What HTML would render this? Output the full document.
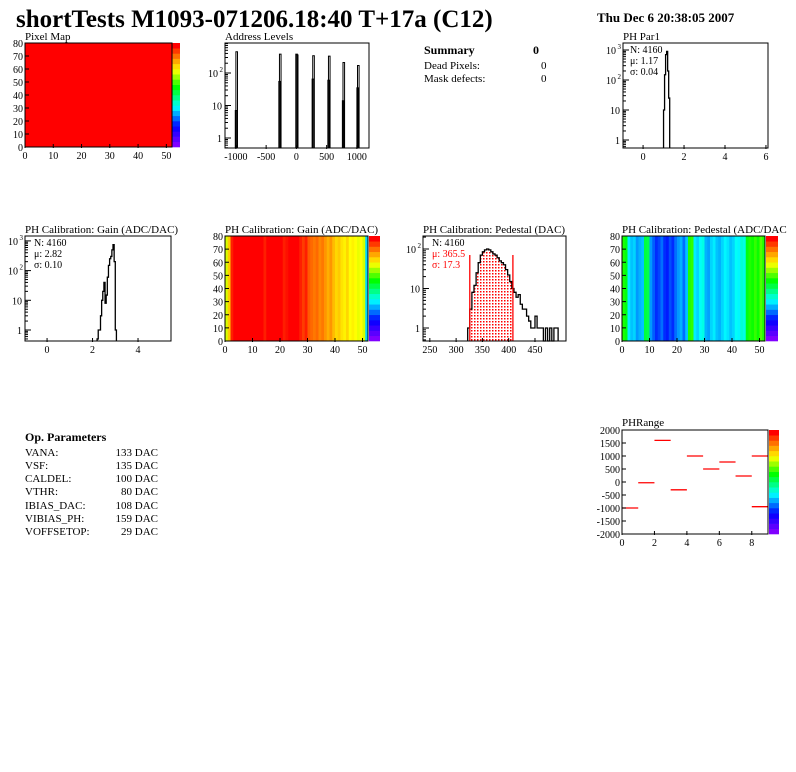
<!DOCTYPE html>
<html><head><meta charset="utf-8"><style>
body{margin:0;background:#fff;}
svg{display:block;font-family:"Liberation Serif",serif;}
</style></head><body>
<svg id="c" width="796" height="772" viewBox="0 0 796 772" xmlns="http://www.w3.org/2000/svg">
<text x="16" y="27" font-size="25" font-weight="bold">shortTests M1093-071206.18:40 T+17a (C12)</text>
<text x="597" y="22" font-size="13" font-weight="bold">Thu Dec  6 20:38:05 2007</text>
<g font-size="11">
<text x="424" y="54" font-weight="bold" font-size="12">Summary</text><text x="533" y="54" font-weight="bold" font-size="12">0</text>
<text x="424" y="69">Dead Pixels:</text><text x="541" y="69">0</text>
<text x="424" y="82">Mask defects:</text><text x="541" y="82">0</text>
</g>
<g font-size="11">
<text x="25" y="441" font-weight="bold" font-size="12">Op. Parameters</text>
<text x="25" y="456">VANA:</text><text x="158" y="456" text-anchor="end">133 DAC</text>
<text x="25" y="469">VSF:</text><text x="158" y="469" text-anchor="end">135 DAC</text>
<text x="25" y="482">CALDEL:</text><text x="158" y="482" text-anchor="end">100 DAC</text>
<text x="25" y="495">VTHR:</text><text x="158" y="495" text-anchor="end">80 DAC</text>
<text x="25" y="509">IBIAS_DAC:</text><text x="158" y="509" text-anchor="end">108 DAC</text>
<text x="25" y="522">VIBIAS_PH:</text><text x="158" y="522" text-anchor="end">159 DAC</text>
<text x="25" y="535">VOFFSETOP:</text><text x="158" y="535" text-anchor="end">29 DAC</text>
</g>
</svg>
<script>
// ---------- data ----------
const addrBins = [-1010,-1000,-290,-280,-10,0,260,270,520,530,760,770,1000,1010];
const addrCounts = [7,450,55,380,380,360,65,340,60,330,14,210,35,170];
const par1Edges = [1.0,1.05,1.1,1.15,1.2,1.25,1.3];
const par1Counts = [10,150,700,900,200,25];
const gainEdges = [2.2,2.25,2.3,2.35,2.4,2.45,2.5,2.55,2.6,2.65,2.7,2.75,2.8,2.85,2.9,2.95,3.0,3.05];
const gainCounts = [0.5,1,1,3,10,20,40,8,15,60,150,250,300,500,750,200,1];
const pedStart = 322, pedWidth = 4;
const pedCounts = [1,3,8,12,25,45,70,85,95,100,95,85,75,70,60,50,45,40,30,22,15,10,8,6,7,4,3,3,2,1.5,1,1,2,1,1,1,0,1,0,1,0,1,1];
const pedFitRange = [326,408];
const gainCols = [2.72,2.78,2.9,2.92,2.93,2.92,2.94,2.93,2.95,2.93,2.94,2.93,2.92,2.93,2.9,2.92,2.93,2.94,2.93,2.95,2.92,2.9,2.91,2.93,2.92,2.94,2.93,2.9,2.88,2.9,2.86,2.85,2.84,2.85,2.83,2.84,2.82,2.8,2.82,2.79,2.77,2.78,2.76,2.75,2.77,2.74,2.75,2.74,2.73,2.74,2.72,2.45];
const pedCols = [430,425,395,390,392,385,388,390,420,418,385,378,372,375,380,372,370,376,372,380,385,388,380,390,430,432,395,392,398,400,388,386,392,395,390,388,392,396,394,390,392,398,396,402,400,425,430,428,432,428,435,430];
const rangeX = [0,1,2,3,4,5,6,7,8,8];
const rangeY = [-1000,-30,1600,-300,1000,500,770,230,1000,-950];

// ---------- helpers ----------
const NS="http://www.w3.org/2000/svg";
const svg=document.getElementById('c');
function el(t,a,p){const e=document.createElementNS(NS,t);for(const k in a)e.setAttribute(k,a[k]);(p||svg).appendChild(e);return e;}
function txt(x,y,s,a,p){const e=el('text',Object.assign({x:x,y:y,'font-size':10},a||{}),p);e.textContent=s;return e;}
const stops=[[0,[128,0,255]],[0.18,[0,0,255]],[0.38,[0,255,255]],[0.58,[0,255,0]],[0.75,[255,255,0]],[0.87,[255,140,0]],[1,[255,0,0]]];
function pal(t){t=Math.max(0,Math.min(1,t));for(let i=1;i<stops.length;i++){if(t<=stops[i][0]){const a=stops[i-1],b=stops[i];const f=(t-a[0])/(b[0]-a[0]);const c=a[1].map((v,j)=>Math.round(v+(b[1][j]-v)*f));return `rgb(${c})`;}}return 'rgb(255,0,0)';}
function frame(g,x0,y0,x1,y1){el('rect',{x:x0,y:y0,width:x1-x0,height:y1-y0,fill:'none',stroke:'#000','stroke-width':1},g);}
function linAxis(x0,x1,a,b){return v=>x0+(v-a)/(b-a)*(x1-x0);}
function logAxis(y0,y1,a,b){return v=>y0-Math.log10(Math.max(v,0.3))/(b-a)*(y0-y1);}
function xTicks(g,sx,ticks,y,labels){ticks.forEach((t,i)=>{const x=sx(t);el('line',{x1:x,x2:x,y1:y,y2:y-4,stroke:'#000'},g);txt(x,y+11,labels?labels[i]:String(t),{'text-anchor':'middle'},g);});}
function yTicks(g,sy,ticks,x,labels){ticks.forEach((t,i)=>{const y=sy(t);el('line',{x1:x,x2:x+4,y1:y,y2:y,stroke:'#000'},g);txt(x-2,y+4,labels?labels[i]:String(t),{'text-anchor':'end'},g);});}
function logY(g,sy,x,decs,top,bot){decs.forEach(d=>{const y=sy(Math.pow(10,d));
 if(y>=top&&y<=bot){el('line',{x1:x,x2:x+6,y1:y,y2:y,stroke:'#000'},g);
 const t=txt(x-3,y+4,d===0?'1':'10',{'text-anchor':'end'},g);
 if(d>=2){t.setAttribute('x',x-7);txt(x-2,y-1,String(d),{'font-size':7,'text-anchor':'end'},g);}}
 for(let m=2;m<10;m++){const yy=sy(m*Math.pow(10,d));if(yy>=top&&yy<=bot)el('line',{x1:x,x2:x+3,y1:yy,y2:yy,stroke:'#000'},g);}});}
function stepHist(g,sx,sy,edges,counts,col){let d=`M${sx(edges[0])},${sy(0)}`;counts.forEach((c,i)=>{d+=`L${sx(edges[i])},${sy(c)}L${sx(edges[i+1])},${sy(c)}`;});d+=`L${sx(edges[edges.length-1])},${sy(0)}`;el('path',{d:d,fill:'none',stroke:col||'#000','stroke-width':1.3},g);}
function palette(g,x0,y0,x1,y1,n){for(let i=0;i<n;i++){const h=(y1-y0)/n;el('rect',{x:x0,y:y1-(i+1)*h,width:x1-x0,height:h+0.3,fill:pal(i/(n-1))},g);}}
function grp(name){const g=el('g',{});return g;}

// ---------- Pixel map ----------
(function(){const g=grp('pixel-map-panel');txt(25,40,'Pixel Map',{'font-size':11},g);
const sx=linAxis(25,172,0,52), sy=linAxis(147,43,0,80);
el('rect',{x:25,y:43,width:147,height:104,fill:'#ff0000'},g);
palette(g,172,43,180,147,20);frame(g,25,43,172,147);
xTicks(g,sx,[0,10,20,30,40,50],148);yTicks(g,sy,[0,10,20,30,40,50,60,70,80],25);})();

// ---------- Address levels ----------
(function(){const g=grp('address-levels-panel');txt(225,40,'Address Levels',{'font-size':11},g);
const sx=linAxis(225,369,-1180,1200), sy=v=>138-Math.log10(Math.max(v,0.4))*32.5;
const sy2=v=>Math.min(148,sy(v));
addrBins.forEach((b,i)=>{const x=sx(b),y=sy2(addrCounts[i]);const r=el('rect',{x:x,y:Math.max(43,y),width:1.6,height:148-Math.max(43,y),fill:'none',stroke:'#000','stroke-width':1},g);});
frame(g,225,43,369,148);xTicks(g,sx,[-1000,-500,0,500,1000],149);logY(g,sy,225,[-1,0,1,2],43,148);})();

// ---------- PH Par1 ----------
(function(){const g=grp('ph-par1-panel');txt(623,40,'PH Par1',{'font-size':11},g);
const sx=linAxis(623,768,-0.98,6.1), sy=v=>Math.min(148,140-Math.log10(Math.max(v,0.5))*30);
stepHist(g,sx,sy,par1Edges,par1Counts);frame(g,623,43,768,148);
xTicks(g,sx,[0,2,4,6],149);logY(g,v=>140-Math.log10(v)*30,623,[-1,0,1,2,3],43,148);
txt(630,53,'N: 4160',{},g);txt(630,64,'\u03bc: 1.17',{},g);txt(630,75,'\u03c3: 0.04',{},g);})();

// ---------- Gain hist ----------
(function(){const g=grp('gain-hist-panel');txt(25,233,'PH Calibration: Gain (ADC/DAC)',{'font-size':11},g);
const sx=linAxis(25,171,-0.97,5.45), sy=v=>Math.min(341,330-Math.log10(Math.max(v,0.4))*29.7);
stepHist(g,sx,sy,gainEdges,gainCounts);frame(g,25,236,171,341);
xTicks(g,sx,[0,2,4],342);logY(g,v=>330-Math.log10(v)*29.7,25,[-1,0,1,2,3],236,341);
txt(34,246,'N: 4160',{},g);txt(34,257,'\u03bc: 2.82',{},g);txt(34,268,'\u03c3: 0.10',{},g);})();

// ---------- Gain map ----------
(function(){const g=grp('gain-map-panel');txt(225,233,'PH Calibration: Gain (ADC/DAC)',{'font-size':11},g);
const sx=linAxis(225,368,0,52), sy=linAxis(341,236,0,80);
gainCols.forEach((v,i)=>{const r=el('rect',{x:sx(i),y:236,width:sx(i+1)-sx(i)+0.3,height:105,fill:pal((v-2.2)/0.72)},g);});
palette(g,369,236,380,341,20);frame(g,225,236,368,341);
xTicks(g,sx,[0,10,20,30,40,50],342);yTicks(g,sy,[0,10,20,30,40,50,60,70,80],225);})();

// ---------- Pedestal hist ----------
(function(){const g=grp('pedestal-hist-panel');txt(423,233,'PH Calibration: Pedestal (DAC)',{'font-size':11},g);
const sx=linAxis(423,566,237,509), sy=v=>Math.min(341,328-Math.log10(Math.max(v,0.4))*39.5);
const defs=el('defs',{},g);const p=el('pattern',{id:'dots',width:3,height:3,patternUnits:'userSpaceOnUse'},defs);el('rect',{x:0,y:0,width:1.5,height:1.5,fill:'#f00'},p);
const edges=pedCounts.map((_,i)=>pedStart+i*pedWidth);edges.push(pedStart+pedCounts.length*pedWidth);
let d=`M${sx(pedFitRange[0])},341`;pedCounts.forEach((c,i)=>{const a=Math.max(edges[i],pedFitRange[0]),b=Math.min(edges[i+1],pedFitRange[1]);if(b>a){d+=`L${sx(a)},${sy(c)}L${sx(b)},${sy(c)}`;}});d+=`L${sx(pedFitRange[1])},341Z`;
el('path',{d:d,fill:'url(#dots)',stroke:'none'},g);
stepHist(g,sx,sy,edges,pedCounts);
pedFitRange.forEach(v=>el('line',{x1:sx(v),x2:sx(v),y1:341,y2:255,stroke:'#f00','stroke-width':1.3},g));
frame(g,423,236,566,341);xTicks(g,sx,[250,300,350,400,450],342);logY(g,v=>328-Math.log10(v)*39.5,423,[-1,0,1,2],236,341);
txt(432,246,'N: 4160',{},g);txt(432,257,'\u03bc: 365.5',{fill:'#f00'},g);txt(432,268,'\u03c3: 17.3',{fill:'#f00'},g);})();

// ---------- Pedestal map ----------
(function(){const g=grp('pedestal-map-panel');txt(622,233,'PH Calibration: Pedestal (ADC/DAC',{'font-size':11},g);
const sx=linAxis(622,765,0,52), sy=linAxis(341,236,0,80);
pedCols.forEach((v,i)=>{const r=el('rect',{x:sx(i),y:236,width:sx(i+1)-sx(i)+0.3,height:105,fill:pal((v-340)/150)},g);});
palette(g,766,236,778,341,20);frame(g,622,236,765,341);
xTicks(g,sx,[0,10,20,30,40,50],342);yTicks(g,sy,[0,10,20,30,40,50,60,70,80],622);})();

// ---------- PHRange ----------
(function(){const g=grp('phrange-panel');txt(622,426,'PHRange',{'font-size':11},g);
const sx=linAxis(622,768,0,9), sy=linAxis(534,430,-2000,2000);
rangeX.forEach((x,i)=>{const l=el('line',{x1:sx(x),x2:sx(x+1),y1:sy(rangeY[i]),y2:sy(rangeY[i]),stroke:'#f00','stroke-width':1.3},g);});
palette(g,769,430,779,534,20);frame(g,622,430,768,534);
xTicks(g,sx,[0,2,4,6,8],535);yTicks(g,sy,[-2000,-1500,-1000,-500,0,500,1000,1500,2000],622);})();
</script>
</body></html>
